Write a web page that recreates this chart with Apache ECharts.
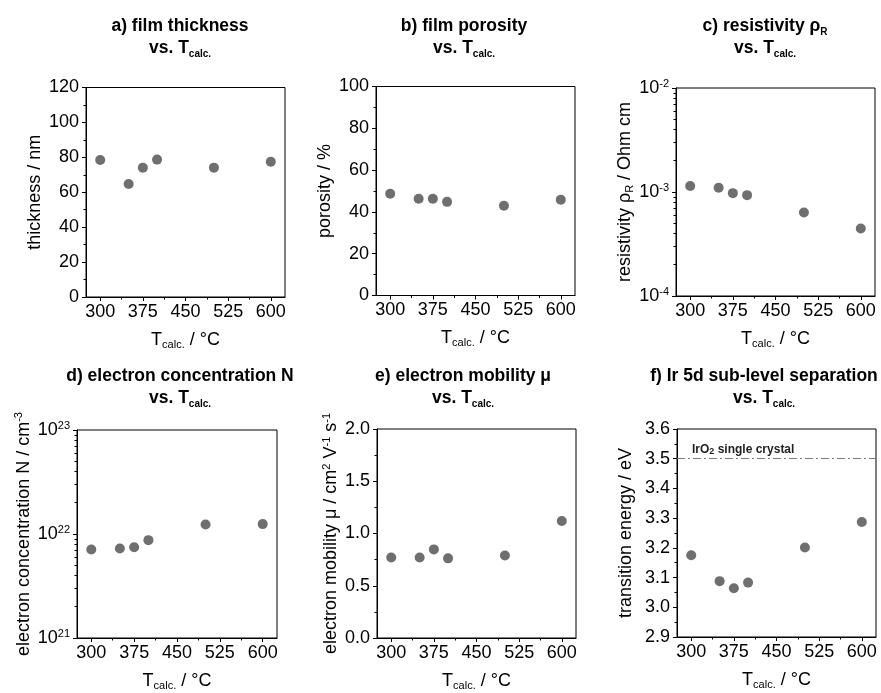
<!DOCTYPE html>
<html><head><meta charset="utf-8">
<script src="https://cdn.jsdelivr.net/npm/echarts@6/dist/echarts.min.js"></script>
<style>html,body{margin:0;padding:0;background:#fff}#c{width:881px;height:693px}</style>
</head><body><div id="c"></div><script>
// ---------- data ----------
const temps = [300, 350, 375, 400, 500, 600];
const thickness = [78.5, 64.7, 74.1, 78.7, 74.1, 77.5];
const porosity = [48.7, 46.3, 46.3, 44.8, 42.9, 45.8];
const resistivity = [1.14e-3, 1.10e-3, 9.75e-4, 9.33e-4, 6.34e-4, 4.45e-4];
const concentration = [7.09e21, 7.25e21, 7.47e21, 8.73e21, 1.235e22, 1.245e22];
const mobility = [0.771, 0.771, 0.848, 0.762, 0.790, 1.12];
const energy = [3.175, 3.088, 3.064, 3.083, 3.201, 3.287];
const singleCrystalEnergy = 3.5;

const xRange = [275, 625];
const xMajorTicks = [300, 375, 450, 525, 600];
const xMinorTicks = [337.5, 412.5, 487.5, 562.5];
const thicknessAxis = {min: 0, max: 120, interval: 20};
const porosityAxis = {min: 0, max: 100, interval: 20};
const resistivityAxis = {min: 1e-4, max: 1e-2};
const concentrationAxis = {min: 1e21, max: 1e23};
const mobilityAxis = {min: 0, max: 2, interval: 0.5};
const energyAxis = {min: 2.9, max: 3.6, interval: 0.1};

// ---------- styling ----------
const FONT = '"Liberation Sans", Arial, sans-serif';
const INK = '#000';
const DOT = '#4b4b4b';
const richBase = {
  n: {fontSize: 18, fontFamily: FONT, color: INK, lineHeight: 20},
  s: {fontSize: 11, fontFamily: FONT, color: INK, lineHeight: 9, verticalAlign: 'bottom'},
  p: {fontSize: 11, fontFamily: FONT, color: INK, lineHeight: 9, verticalAlign: 'top'}
};
const nameStyle = {fontSize: 18, fontFamily: FONT, color: INK, lineHeight: 20, rich: richBase};

const grids = [], xAxes = [], yAxes = [], series = [], graphics = [];
const line = {show: true, onZero: false, lineStyle: {color: INK, width: 1}};
const noLine = {show: false, onZero: false};

function logLabel(v) {
  return '{n|10}{p|' + Math.round(Math.log10(v)) + '}';
}

function addPanel(p) {
  const gi = grids.length;
  grids.push({left: p.box[0], top: p.box[1], width: p.box[2], height: p.box[3],
              show: true, borderColor: INK, borderWidth: 1, backgroundColor: 'transparent'});
  const xi = xAxes.length, yi = yAxes.length;
  const xBase = {gridIndex: gi, type: 'value', min: xRange[0], max: xRange[1], splitLine: {show: false}};
  xAxes.push(Object.assign({}, xBase, {
    position: 'bottom', axisLine: line,
    axisTick: {show: true, length: 4, customValues: xMajorTicks, lineStyle: {color: INK}},
    axisLabel: {show: true, customValues: xMajorTicks, margin: 6, fontSize: 18, fontFamily: FONT, color: INK},
    name: '{n|T}{s|calc.}{n| / °C}', nameLocation: 'middle', nameGap: 33, nameTextStyle: nameStyle
  }));
  xAxes.push(Object.assign({}, xBase, {
    position: 'bottom', axisLine: noLine,
    axisTick: {show: true, length: 2.5, customValues: xMinorTicks, lineStyle: {color: INK}},
    axisLabel: {show: false}
  }));
  const isLog = p.yType === 'log';
  const yMain = Object.assign({gridIndex: gi, type: p.yType, splitLine: {show: false}, position: 'left'}, p.yAxis, {
    axisLine: line,
    axisTick: {show: true, length: 4, lineStyle: {color: INK}},
    minorTick: {show: true, splitNumber: isLog ? 9 : 2, length: 2.5, lineStyle: {color: INK, width: 1}},
    minorSplitLine: {show: false},
    axisLabel: {show: true, margin: 7, fontSize: 18, fontFamily: FONT, color: INK, lineHeight: 20, rich: richBase,
                formatter: p.fmt},
    name: p.yName, nameLocation: 'middle', nameGap: p.nameGap, nameTextStyle: nameStyle
  });
  if (isLog) yMain.logBase = 10;
  yAxes.push(yMain);
  const s = {
    type: 'scatter', xAxisIndex: xi, yAxisIndex: yi, symbol: 'circle', symbolSize: 10,
    itemStyle: {color: DOT}, data: temps.map((t, k) => [t, p.values[k]]), silent: true
  };
  if (p.markLine) s.markLine = p.markLine;
  series.push(s);
  graphics.push({
    type: 'text', x: p.title[1], y: p.title[2], silent: true,
    style: {
      text: p.title[0] + '\nvs. T{s|calc.}', align: 'center', verticalAlign: 'top',
      fontSize: 17.5, fontWeight: 'bold', fontFamily: FONT, fill: INK, lineHeight: 22,
      rich: {s: {fontSize: 10, fontWeight: 'bold', fontFamily: FONT, fill: INK, lineHeight: 9, verticalAlign: 'bottom'}}
    }
  });
}

const fmt1 = v => v.toFixed(1);
const fmt0 = v => String(Math.round(v));

addPanel({box: [86, 87.5, 199, 209.5], yType: 'value', yAxis: thicknessAxis,
  fmt: fmt0, yName: 'thickness / nm', nameGap: 40, values: thickness, title: ['a) film thickness', 180, 15]});
addPanel({box: [376, 86.5, 199, 209], yType: 'value', yAxis: porosityAxis,
  fmt: fmt0, yName: 'porosity / %', nameGap: 37, values: porosity, title: ['b) film porosity', 464, 15]});
addPanel({box: [676, 88, 199, 208], yType: 'log', yAxis: resistivityAxis,
  fmt: logLabel, yName: 'resistivity ρ{s|R} / Ohm cm', nameGap: 40, values: resistivity, title: ['c) resistivity ρ{s|R}', 765, 15]});
addPanel({box: [77, 430, 200, 208], yType: 'log', yAxis: concentrationAxis,
  fmt: logLabel, yName: 'electron concentration N / cm{p|-3}', nameGap: 40, values: concentration, title: ['d) electron concentration N', 180, 365]});
addPanel({box: [377, 429, 199, 209], yType: 'value', yAxis: mobilityAxis,
  fmt: fmt1, yName: 'electron mobility μ / cm{p|2} V{p|-1} s{p|-1}', nameGap: 29, values: mobility, title: ['e) electron mobility μ', 463, 365]});
addPanel({box: [677, 429, 199, 208], yType: 'value', yAxis: energyAxis,
  fmt: fmt1, yName: 'transition energy / eV', nameGap: 41, values: energy, title: ['f) Ir 5d sub-level separation', 764, 365],
  markLine: {
    silent: true, symbol: 'none', animation: false,
    lineStyle: {color: '#7a7a7a', width: 1, type: [8, 3, 2, 3]},
    label: {show: true, position: 'insideStartTop', distance: [15, 3], formatter: 'IrO{s|2} single crystal',
      fontSize: 12, fontWeight: 'bold', fontFamily: FONT, color: '#222',
      rich: {s: {fontSize: 9, fontWeight: 'bold', fontFamily: FONT, color: '#222', verticalAlign: 'bottom', lineHeight: 8}}},
    data: [{yAxis: singleCrystalEnergy}]
  }});

const chart = echarts.init(document.getElementById('c'), null, {renderer: 'canvas'});
chart.setOption({
  animation: false,
  backgroundColor: '#fff',
  grid: grids, xAxis: xAxes, yAxis: yAxes, series: series, graphic: graphics
});
</script></body></html>
